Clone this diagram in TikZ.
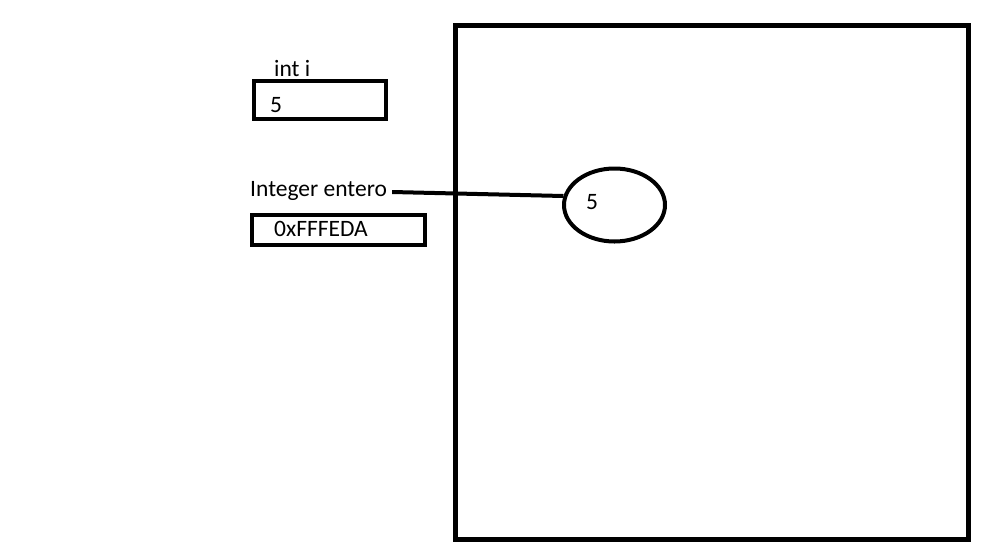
\documentclass[tikz,border=0pt]{standalone}
\usepackage{fontspec}
\setmainfont{Carlito}
\usetikzlibrary{shapes.geometric}
\begin{document}
\begin{tikzpicture}[x=1pt,y=-1pt,
  lbl/.style={inner sep=0pt,anchor=west,font=\fontsize{23.5}{26}\selectfont},
  cell/.style={draw,line width=4pt,inner sep=0pt},
  obj/.style={draw,ellipse,line width=4pt,minimum width=101pt,minimum height=73pt,inner sep=0pt}]
\useasboundingbox (0,0) rectangle (990,558);
\node[draw,line width=5pt,minimum width=513pt,minimum height=514pt,inner sep=0pt] (heap) at (711.5,282) {};
\node[lbl] (inti) at (274,68) {int i};
\node[cell,minimum width=132pt,minimum height=38pt] (boxi) at (320,100) {};
\node[lbl] (v5) at (270,105) {5};
\node[lbl] (ie) at (250,191) {Integer entero};
\node[cell,minimum width=173pt,minimum height=30pt] (boxe) at (338.5,230) {};
\node[lbl] (addr) at (274,229) {0xFFFEDA};
\node[obj] (o) at (614.5,205) {};
\node[lbl] (o5) at (586,202) {5};
\draw[line width=4pt] ([xshift=5pt,yshift=-1pt]ie.east) -- (o.170);
\end{tikzpicture}
\end{document}
